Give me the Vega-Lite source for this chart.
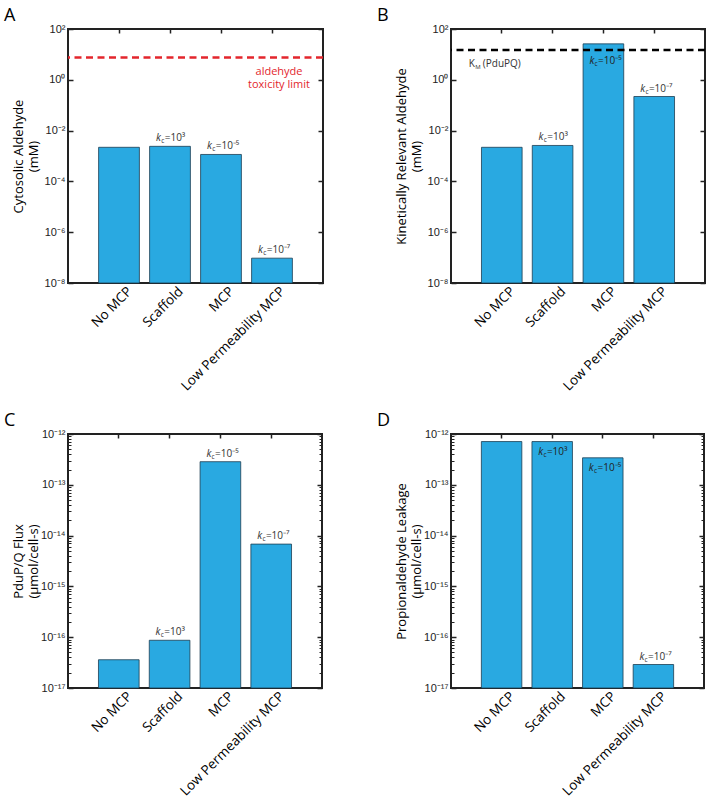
{
  "$schema": "https://vega.github.io/schema/vega-lite/v6.json",
  "padding": {"left": 3, "top": 6, "right": 0, "bottom": 0},
  "background": "white",
  "datasets": {
    "bars": [
      {"panel": "A", "cat": "No MCP", "value": 0.0022, "kc": ""},
      {"panel": "A", "cat": "Scaffold", "value": 0.0024, "kc": "=10³"},
      {"panel": "A", "cat": "MCP", "value": 0.00115, "kc": "=10⁻⁵"},
      {"panel": "A", "cat": "Low Permeability MCP", "value": 9.5e-8, "kc": "=10⁻⁷"},
      {"panel": "B", "cat": "No MCP", "value": 0.0022, "kc": ""},
      {"panel": "B", "cat": "Scaffold", "value": 0.0026, "kc": "=10³"},
      {"panel": "B", "cat": "MCP", "value": 26, "kc": "=10⁻⁵"},
      {"panel": "B", "cat": "Low Permeability MCP", "value": 0.22, "kc": "=10⁻⁷"},
      {"panel": "C", "cat": "No MCP", "value": 3.6e-17, "kc": ""},
      {"panel": "C", "cat": "Scaffold", "value": 8.7e-17, "kc": "=10³"},
      {"panel": "C", "cat": "MCP", "value": 2.85e-13, "kc": "=10⁻⁵"},
      {"panel": "C", "cat": "Low Permeability MCP", "value": 6.8e-15, "kc": "=10⁻⁷"},
      {"panel": "D", "cat": "No MCP", "value": 7.1e-13, "kc": ""},
      {"panel": "D", "cat": "Scaffold", "value": 7.1e-13, "kc": "=10³"},
      {"panel": "D", "cat": "MCP", "value": 3.4e-13, "kc": "=10⁻⁵"},
      {"panel": "D", "cat": "Low Permeability MCP", "value": 2.9e-17, "kc": "=10⁻⁷"}
    ],
    "refs": [
      {"panel": "A", "cat": "Low Permeability MCP", "value": 7.5, "label": "aldehyde\ntoxicity limit"},
      {"panel": "B", "cat": "No MCP", "value": 15, "label": "(PduPQ)"}
    ]
  },
  "columns": 2,
  "spacing": {"row": 17, "column": 50},
  "concat": [
    {
      "width": 255, "height": 254,
      "title": {"text": "A", "dx": -8},
      "layer": [
        {
          "data": {"name": "bars"},
          "transform": [{"filter": "datum.panel=='A'"}],
          "mark": {"type": "bar", "fill": "#29A9E1", "stroke": "#1d3d52", "strokeWidth": 0.8},
          "encoding": {
            "x": {"field": "cat", "type": "nominal", "scale": {"domain": ["No MCP", "Scaffold", "MCP", "Low Permeability MCP"], "paddingInner": 0.2, "paddingOuter": 0.6},
              "axis": {"orient": "bottom", "title": null, "labelAngle": -45, "labelAlign": "right", "labelBaseline": "middle", "labelFont": "Open Sans", "labelFontSize": 13.5, "labelColor": "#000", "labelPadding": 10, "labelOffset": 11, "tickSize": -4, "tickColor": "#222", "tickWidth": 1.5, "domain": false}},
            "y": {"field": "value", "type": "quantitative", "stack": null, "scale": {"type": "log", "domain": [1e-8, 100]},
              "axis": {"orient": "left", "values": [1e-8, 1e-6, 1e-4, 1e-2, 1, 100], "labelExpr": "'10' + replace(replace(replace(replace(replace(replace(replace(replace(replace(replace(replace(toString(round(log(datum.value)/LN10)),'-','⁻'),'0','⁰'),'1','¹'),'2','²'),'3','³'),'4','⁴'),'5','⁵'),'6','⁶'),'7','⁷'),'8','⁸'),'9','⁹')", "labelFont": "Liberation Sans", "labelFontSize": 11, "labelColor": "#222", "labelPadding": 8, "tickSize": -5, "tickColor": "#222", "tickWidth": 1.5, "domain": false, "grid": false, "minExtent": 26, "maxExtent": 26, "title": ["Cytosolic Aldehyde", "(mM)"], "titleFont": "Open Sans", "titleFontSize": 13, "titleFontWeight": "normal", "titleColor": "#000", "titlePadding": 2, "titleLineHeight": 15}}
          }
        },
        {
          "data": {"name": "bars"},
          "transform": [{"filter": "datum.panel=='A'"}],
          "mark": {"type": "point", "opacity": 0},
          "encoding": {
            "x": {"field": "cat", "type": "nominal", "axis": {"orient": "top", "title": null, "labels": false, "tickSize": -4, "tickColor": "#222", "tickWidth": 1.5, "domain": false}},
            "y": {"field": "value", "type": "quantitative", "axis": {"orient": "right", "values": [1e-8, 1e-6, 1e-4, 1e-2, 1, 100], "labels": false, "tickSize": -5, "tickColor": "#222", "tickWidth": 1.5, "domain": false, "grid": false, "title": null}}
          }
        },
        {
          "data": {"name": "refs"},
          "transform": [{"filter": "datum.panel=='A'"}],
          "mark": {"type": "rule", "color": "#E3262D", "strokeWidth": 2.5, "strokeDash": [7, 4.5]},
          "encoding": {"y": {"field": "value", "type": "quantitative", "axis": null}}
        },
        {
          "data": {"name": "refs"},
          "transform": [{"filter": "datum.panel=='A'"}],
          "mark": {"type": "text", "color": "#E3262D", "font": "Open Sans", "fontSize": 11, "lineBreak": "\n", "lineHeight": 13, "align": "center", "baseline": "top", "dx": 7, "dy": 8},
          "encoding": {"x": {"field": "cat", "type": "nominal", "axis": null}, "y": {"field": "value", "type": "quantitative", "axis": null}, "text": {"field": "label"}}
        },
        {
          "data": {"name": "bars"},
          "transform": [{"filter": "datum.panel=='A' && datum.kc!=''"}],
          "mark": {"type": "text", "text": "k", "font": "Open Sans", "fontStyle": "italic", "fontSize": 10, "align": "left", "baseline": "alphabetic", "dx": -14, "dy": -5, "color": "#333"},
          "encoding": {"x": {"field": "cat", "type": "nominal", "axis": null}, "y": {"field": "value", "type": "quantitative", "axis": null}}
        },
        {
          "data": {"name": "bars"},
          "transform": [{"filter": "datum.panel=='A' && datum.kc!=''"}],
          "mark": {"type": "text", "text": "c", "font": "Open Sans", "fontSize": 6.5, "align": "left", "baseline": "alphabetic", "dx": -8.8, "dy": -3, "color": "#333"},
          "encoding": {"x": {"field": "cat", "type": "nominal", "axis": null}, "y": {"field": "value", "type": "quantitative", "axis": null}}
        },
        {
          "data": {"name": "bars"},
          "transform": [{"filter": "datum.panel=='A' && datum.kc!=''"}],
          "mark": {"type": "text", "font": "Open Sans", "fontSize": 10, "align": "left", "baseline": "alphabetic", "dx": -5.3, "dy": -5, "color": "#333"},
          "encoding": {"x": {"field": "cat", "type": "nominal", "axis": null}, "y": {"field": "value", "type": "quantitative", "axis": null}, "text": {"field": "kc"}}
        }
      ],
      "resolve": {"axis": {"x": "independent", "y": "independent"}}
    },
    {
      "width": 254, "height": 254,
      "title": {"text": "B", "dx": -18},
      "layer": [
        {
          "data": {"name": "bars"},
          "transform": [{"filter": "datum.panel=='B'"}],
          "mark": {"type": "bar", "fill": "#29A9E1", "stroke": "#1d3d52", "strokeWidth": 0.8},
          "encoding": {
            "x": {"field": "cat", "type": "nominal", "scale": {"domain": ["No MCP", "Scaffold", "MCP", "Low Permeability MCP"], "paddingInner": 0.2, "paddingOuter": 0.6},
              "axis": {"orient": "bottom", "title": null, "labelAngle": -45, "labelAlign": "right", "labelBaseline": "middle", "labelFont": "Open Sans", "labelFontSize": 13.5, "labelColor": "#000", "labelPadding": 10, "labelOffset": 11, "tickSize": -4, "tickColor": "#222", "tickWidth": 1.5, "domain": false}},
            "y": {"field": "value", "type": "quantitative", "stack": null, "scale": {"type": "log", "domain": [1e-8, 100]},
              "axis": {"orient": "left", "values": [1e-8, 1e-6, 1e-4, 1e-2, 1, 100], "labelExpr": "'10' + replace(replace(replace(replace(replace(replace(replace(replace(replace(replace(replace(toString(round(log(datum.value)/LN10)),'-','⁻'),'0','⁰'),'1','¹'),'2','²'),'3','³'),'4','⁴'),'5','⁵'),'6','⁶'),'7','⁷'),'8','⁸'),'9','⁹')", "labelFont": "Liberation Sans", "labelFontSize": 11, "labelColor": "#222", "labelPadding": 8, "tickSize": -5, "tickColor": "#222", "tickWidth": 1.5, "domain": false, "grid": false, "minExtent": 26, "maxExtent": 26, "title": ["Kinetically Relevant Aldehyde", "(mM)"], "titleFont": "Open Sans", "titleFontSize": 13, "titleFontWeight": "normal", "titleColor": "#000", "titlePadding": 2, "titleLineHeight": 15}}
          }
        },
        {
          "data": {"name": "bars"},
          "transform": [{"filter": "datum.panel=='B'"}],
          "mark": {"type": "point", "opacity": 0},
          "encoding": {
            "x": {"field": "cat", "type": "nominal", "axis": {"orient": "top", "title": null, "labels": false, "tickSize": -4, "tickColor": "#222", "tickWidth": 1.5, "domain": false}},
            "y": {"field": "value", "type": "quantitative", "axis": {"orient": "right", "values": [1e-8, 1e-6, 1e-4, 1e-2, 1, 100], "labels": false, "tickSize": -5, "tickColor": "#222", "tickWidth": 1.5, "domain": false, "grid": false, "title": null}}
          }
        },
        {
          "data": {"name": "refs"},
          "transform": [{"filter": "datum.panel=='B'"}],
          "mark": {"type": "rule", "color": "#000", "strokeWidth": 2.5, "strokeDash": [7, 4.5]},
          "encoding": {"y": {"field": "value", "type": "quantitative", "axis": null}}
        },
        {
          "data": {"name": "refs"},
          "transform": [{"filter": "datum.panel=='B'"}],
          "mark": {"type": "text", "text": "K", "color": "#333", "font": "Open Sans", "fontSize": 10, "align": "left", "baseline": "middle", "dx": -33, "dy": 14},
          "encoding": {"x": {"field": "cat", "type": "nominal", "axis": null}, "y": {"field": "value", "type": "quantitative", "axis": null}}
        },
        {
          "data": {"name": "refs"},
          "transform": [{"filter": "datum.panel=='B'"}],
          "mark": {"type": "text", "text": "M", "color": "#333", "font": "Open Sans", "fontSize": 6, "align": "left", "baseline": "middle", "dx": -26.5, "dy": 17},
          "encoding": {"x": {"field": "cat", "type": "nominal", "axis": null}, "y": {"field": "value", "type": "quantitative", "axis": null}}
        },
        {
          "data": {"name": "refs"},
          "transform": [{"filter": "datum.panel=='B'"}],
          "mark": {"type": "text", "color": "#333", "font": "Open Sans", "fontSize": 10, "align": "left", "baseline": "middle", "dx": -19, "dy": 14},
          "encoding": {"x": {"field": "cat", "type": "nominal", "axis": null}, "y": {"field": "value", "type": "quantitative", "axis": null}, "text": {"field": "label"}}
        },
        {
          "data": {"name": "bars"},
          "transform": [{"filter": "datum.panel=='B' && datum.kc!='' && datum.cat!='MCP'"}],
          "mark": {"type": "text", "text": "k", "font": "Open Sans", "fontStyle": "italic", "fontSize": 10, "align": "left", "baseline": "alphabetic", "dx": -14, "dy": -5, "color": "#333"},
          "encoding": {"x": {"field": "cat", "type": "nominal", "axis": null}, "y": {"field": "value", "type": "quantitative", "axis": null}}
        },
        {
          "data": {"name": "bars"},
          "transform": [{"filter": "datum.panel=='B' && datum.kc!='' && datum.cat!='MCP'"}],
          "mark": {"type": "text", "text": "c", "font": "Open Sans", "fontSize": 6.5, "align": "left", "baseline": "alphabetic", "dx": -8.8, "dy": -3, "color": "#333"},
          "encoding": {"x": {"field": "cat", "type": "nominal", "axis": null}, "y": {"field": "value", "type": "quantitative", "axis": null}}
        },
        {
          "data": {"name": "bars"},
          "transform": [{"filter": "datum.panel=='B' && datum.kc!='' && datum.cat!='MCP'"}],
          "mark": {"type": "text", "font": "Open Sans", "fontSize": 10, "align": "left", "baseline": "alphabetic", "dx": -5.3, "dy": -5, "color": "#333"},
          "encoding": {"x": {"field": "cat", "type": "nominal", "axis": null}, "y": {"field": "value", "type": "quantitative", "axis": null}, "text": {"field": "kc"}}
        },
        {
          "data": {"name": "bars"},
          "transform": [{"filter": "datum.panel=='B' && datum.cat=='MCP'"}],
          "mark": {"type": "text", "text": "k", "font": "Open Sans", "fontStyle": "italic", "fontSize": 10, "align": "left", "baseline": "alphabetic", "dx": -14, "dy": 20, "color": "#222"},
          "encoding": {"x": {"field": "cat", "type": "nominal", "axis": null}, "y": {"field": "value", "type": "quantitative", "axis": null}}
        },
        {
          "data": {"name": "bars"},
          "transform": [{"filter": "datum.panel=='B' && datum.cat=='MCP'"}],
          "mark": {"type": "text", "text": "c", "font": "Open Sans", "fontSize": 6.5, "align": "left", "baseline": "alphabetic", "dx": -8.8, "dy": 22, "color": "#222"},
          "encoding": {"x": {"field": "cat", "type": "nominal", "axis": null}, "y": {"field": "value", "type": "quantitative", "axis": null}}
        },
        {
          "data": {"name": "bars"},
          "transform": [{"filter": "datum.panel=='B' && datum.cat=='MCP'"}],
          "mark": {"type": "text", "font": "Open Sans", "fontSize": 10, "align": "left", "baseline": "alphabetic", "dx": -5.3, "dy": 20, "color": "#222"},
          "encoding": {"x": {"field": "cat", "type": "nominal", "axis": null}, "y": {"field": "value", "type": "quantitative", "axis": null}, "text": {"field": "kc"}}
        }
      ],
      "resolve": {"axis": {"x": "independent", "y": "independent"}}
    },
    {
      "width": 254, "height": 254,
      "title": {"text": "C", "dx": -8},
      "layer": [
        {
          "data": {"name": "bars"},
          "transform": [{"filter": "datum.panel=='C'"}],
          "mark": {"type": "bar", "fill": "#29A9E1", "stroke": "#1d3d52", "strokeWidth": 0.8},
          "encoding": {
            "x": {"field": "cat", "type": "nominal", "scale": {"domain": ["No MCP", "Scaffold", "MCP", "Low Permeability MCP"], "paddingInner": 0.2, "paddingOuter": 0.6},
              "axis": {"orient": "bottom", "title": null, "labelAngle": -45, "labelAlign": "right", "labelBaseline": "middle", "labelFont": "Open Sans", "labelFontSize": 13.5, "labelColor": "#000", "labelPadding": 10, "labelOffset": 11, "tickSize": -4, "tickColor": "#222", "tickWidth": 1.5, "domain": false}},
            "y": {"field": "value", "type": "quantitative", "stack": null, "scale": {"type": "log", "domain": [1e-17, 1e-12]},
              "axis": {"orient": "left", "values": [1e-17, 1e-16, 1e-15, 1e-14, 1e-13, 1e-12], "labelExpr": "'10' + replace(replace(replace(replace(replace(replace(replace(replace(replace(replace(replace(toString(round(log(datum.value)/LN10)),'-','⁻'),'0','⁰'),'1','¹'),'2','²'),'3','³'),'4','⁴'),'5','⁵'),'6','⁶'),'7','⁷'),'8','⁸'),'9','⁹')", "labelFont": "Liberation Sans", "labelFontSize": 11, "labelColor": "#222", "labelPadding": 8, "tickSize": -5, "tickColor": "#222", "tickWidth": 1.5, "domain": false, "grid": false, "minExtent": 26, "maxExtent": 26, "title": ["PduP/Q Flux", "(µmol/cell-s)"], "titleFont": "Open Sans", "titleFontSize": 13, "titleFontWeight": "normal", "titleColor": "#000", "titlePadding": 2, "titleLineHeight": 15}}
          }
        },
        {
          "data": {"name": "bars"},
          "transform": [{"filter": "datum.panel=='C'"}],
          "mark": {"type": "point", "opacity": 0},
          "encoding": {
            "x": {"field": "cat", "type": "nominal", "axis": {"orient": "top", "title": null, "labels": false, "tickSize": -4, "tickColor": "#222", "tickWidth": 1.5, "domain": false}},
            "y": {"field": "value", "type": "quantitative", "axis": {"orient": "right", "values": [1e-17, 1e-16, 1e-15, 1e-14, 1e-13, 1e-12], "labels": false, "tickSize": -5, "tickColor": "#222", "tickWidth": 1.5, "domain": false, "grid": false, "title": null}}
          }
        },
        {
          "data": {"name": "bars"},
          "transform": [{"filter": "datum.panel=='C'"}],
          "mark": {"type": "point", "opacity": 0},
          "encoding": {
            "x": {"field": "cat", "type": "nominal", "axis": null},
            "y": {"field": "value", "type": "quantitative", "axis": {"orient": "left", "values": [2e-17, 3e-17, 4e-17, 5e-17, 6e-17, 7e-17, 8e-17, 9e-17, 2e-16, 3e-16, 4e-16, 5e-16, 6e-16, 7e-16, 8e-16, 9e-16, 2e-15, 3e-15, 4e-15, 5e-15, 6e-15, 7e-15, 8e-15, 9e-15, 2e-14, 3e-14, 4e-14, 5e-14, 6e-14, 7e-14, 8e-14, 9e-14, 2e-13, 3e-13, 4e-13, 5e-13, 6e-13, 7e-13, 8e-13, 9e-13], "labels": false, "tickSize": -3, "tickColor": "#222", "tickWidth": 1, "domain": false, "grid": false, "title": null}}
          }
        },
        {
          "data": {"name": "bars"},
          "transform": [{"filter": "datum.panel=='C'"}],
          "mark": {"type": "point", "opacity": 0},
          "encoding": {
            "x": {"field": "cat", "type": "nominal", "axis": null},
            "y": {"field": "value", "type": "quantitative", "axis": {"orient": "right", "values": [2e-17, 3e-17, 4e-17, 5e-17, 6e-17, 7e-17, 8e-17, 9e-17, 2e-16, 3e-16, 4e-16, 5e-16, 6e-16, 7e-16, 8e-16, 9e-16, 2e-15, 3e-15, 4e-15, 5e-15, 6e-15, 7e-15, 8e-15, 9e-15, 2e-14, 3e-14, 4e-14, 5e-14, 6e-14, 7e-14, 8e-14, 9e-14, 2e-13, 3e-13, 4e-13, 5e-13, 6e-13, 7e-13, 8e-13, 9e-13], "labels": false, "tickSize": -3, "tickColor": "#222", "tickWidth": 1, "domain": false, "grid": false, "title": null}}
          }
        },
        {
          "data": {"name": "bars"},
          "transform": [{"filter": "datum.panel=='C' && datum.kc!=''"}],
          "mark": {"type": "text", "text": "k", "font": "Open Sans", "fontStyle": "italic", "fontSize": 10, "align": "left", "baseline": "alphabetic", "dx": -14, "dy": -5, "color": "#333"},
          "encoding": {"x": {"field": "cat", "type": "nominal", "axis": null}, "y": {"field": "value", "type": "quantitative", "axis": null}}
        },
        {
          "data": {"name": "bars"},
          "transform": [{"filter": "datum.panel=='C' && datum.kc!=''"}],
          "mark": {"type": "text", "text": "c", "font": "Open Sans", "fontSize": 6.5, "align": "left", "baseline": "alphabetic", "dx": -8.8, "dy": -3, "color": "#333"},
          "encoding": {"x": {"field": "cat", "type": "nominal", "axis": null}, "y": {"field": "value", "type": "quantitative", "axis": null}}
        },
        {
          "data": {"name": "bars"},
          "transform": [{"filter": "datum.panel=='C' && datum.kc!=''"}],
          "mark": {"type": "text", "font": "Open Sans", "fontSize": 10, "align": "left", "baseline": "alphabetic", "dx": -5.3, "dy": -5, "color": "#333"},
          "encoding": {"x": {"field": "cat", "type": "nominal", "axis": null}, "y": {"field": "value", "type": "quantitative", "axis": null}, "text": {"field": "kc"}}
        }
      ],
      "resolve": {"axis": {"x": "independent", "y": "independent"}}
    },
    {
      "width": 253, "height": 254,
      "title": {"text": "D", "dx": -18},
      "layer": [
        {
          "data": {"name": "bars"},
          "transform": [{"filter": "datum.panel=='D'"}],
          "mark": {"type": "bar", "fill": "#29A9E1", "stroke": "#1d3d52", "strokeWidth": 0.8},
          "encoding": {
            "x": {"field": "cat", "type": "nominal", "scale": {"domain": ["No MCP", "Scaffold", "MCP", "Low Permeability MCP"], "paddingInner": 0.2, "paddingOuter": 0.6},
              "axis": {"orient": "bottom", "title": null, "labelAngle": -45, "labelAlign": "right", "labelBaseline": "middle", "labelFont": "Open Sans", "labelFontSize": 13.5, "labelColor": "#000", "labelPadding": 10, "labelOffset": 11, "tickSize": -4, "tickColor": "#222", "tickWidth": 1.5, "domain": false}},
            "y": {"field": "value", "type": "quantitative", "stack": null, "scale": {"type": "log", "domain": [1e-17, 1e-12]},
              "axis": {"orient": "left", "values": [1e-17, 1e-16, 1e-15, 1e-14, 1e-13, 1e-12], "labelExpr": "'10' + replace(replace(replace(replace(replace(replace(replace(replace(replace(replace(replace(toString(round(log(datum.value)/LN10)),'-','⁻'),'0','⁰'),'1','¹'),'2','²'),'3','³'),'4','⁴'),'5','⁵'),'6','⁶'),'7','⁷'),'8','⁸'),'9','⁹')", "labelFont": "Liberation Sans", "labelFontSize": 11, "labelColor": "#222", "labelPadding": 8, "tickSize": -5, "tickColor": "#222", "tickWidth": 1.5, "domain": false, "grid": false, "minExtent": 26, "maxExtent": 26, "title": ["Propionaldehyde Leakage", "(µmol/cell-s)"], "titleFont": "Open Sans", "titleFontSize": 13, "titleFontWeight": "normal", "titleColor": "#000", "titlePadding": 2, "titleLineHeight": 15}}
          }
        },
        {
          "data": {"name": "bars"},
          "transform": [{"filter": "datum.panel=='D'"}],
          "mark": {"type": "point", "opacity": 0},
          "encoding": {
            "x": {"field": "cat", "type": "nominal", "axis": {"orient": "top", "title": null, "labels": false, "tickSize": -4, "tickColor": "#222", "tickWidth": 1.5, "domain": false}},
            "y": {"field": "value", "type": "quantitative", "axis": {"orient": "right", "values": [1e-17, 1e-16, 1e-15, 1e-14, 1e-13, 1e-12], "labels": false, "tickSize": -5, "tickColor": "#222", "tickWidth": 1.5, "domain": false, "grid": false, "title": null}}
          }
        },
        {
          "data": {"name": "bars"},
          "transform": [{"filter": "datum.panel=='D'"}],
          "mark": {"type": "point", "opacity": 0},
          "encoding": {
            "x": {"field": "cat", "type": "nominal", "axis": null},
            "y": {"field": "value", "type": "quantitative", "axis": {"orient": "left", "values": [2e-17, 3e-17, 4e-17, 5e-17, 6e-17, 7e-17, 8e-17, 9e-17, 2e-16, 3e-16, 4e-16, 5e-16, 6e-16, 7e-16, 8e-16, 9e-16, 2e-15, 3e-15, 4e-15, 5e-15, 6e-15, 7e-15, 8e-15, 9e-15, 2e-14, 3e-14, 4e-14, 5e-14, 6e-14, 7e-14, 8e-14, 9e-14, 2e-13, 3e-13, 4e-13, 5e-13, 6e-13, 7e-13, 8e-13, 9e-13], "labels": false, "tickSize": -3, "tickColor": "#222", "tickWidth": 1, "domain": false, "grid": false, "title": null}}
          }
        },
        {
          "data": {"name": "bars"},
          "transform": [{"filter": "datum.panel=='D'"}],
          "mark": {"type": "point", "opacity": 0},
          "encoding": {
            "x": {"field": "cat", "type": "nominal", "axis": null},
            "y": {"field": "value", "type": "quantitative", "axis": {"orient": "right", "values": [2e-17, 3e-17, 4e-17, 5e-17, 6e-17, 7e-17, 8e-17, 9e-17, 2e-16, 3e-16, 4e-16, 5e-16, 6e-16, 7e-16, 8e-16, 9e-16, 2e-15, 3e-15, 4e-15, 5e-15, 6e-15, 7e-15, 8e-15, 9e-15, 2e-14, 3e-14, 4e-14, 5e-14, 6e-14, 7e-14, 8e-14, 9e-14, 2e-13, 3e-13, 4e-13, 5e-13, 6e-13, 7e-13, 8e-13, 9e-13], "labels": false, "tickSize": -3, "tickColor": "#222", "tickWidth": 1, "domain": false, "grid": false, "title": null}}
          }
        },
        {
          "data": {"name": "bars"},
          "transform": [{"filter": "datum.panel=='D' && datum.cat=='Low Permeability MCP'"}],
          "mark": {"type": "text", "text": "k", "font": "Open Sans", "fontStyle": "italic", "fontSize": 10, "align": "left", "baseline": "alphabetic", "dx": -14, "dy": -5, "color": "#333"},
          "encoding": {"x": {"field": "cat", "type": "nominal", "axis": null}, "y": {"field": "value", "type": "quantitative", "axis": null}}
        },
        {
          "data": {"name": "bars"},
          "transform": [{"filter": "datum.panel=='D' && datum.cat=='Low Permeability MCP'"}],
          "mark": {"type": "text", "text": "c", "font": "Open Sans", "fontSize": 6.5, "align": "left", "baseline": "alphabetic", "dx": -8.8, "dy": -3, "color": "#333"},
          "encoding": {"x": {"field": "cat", "type": "nominal", "axis": null}, "y": {"field": "value", "type": "quantitative", "axis": null}}
        },
        {
          "data": {"name": "bars"},
          "transform": [{"filter": "datum.panel=='D' && datum.cat=='Low Permeability MCP'"}],
          "mark": {"type": "text", "font": "Open Sans", "fontSize": 10, "align": "left", "baseline": "alphabetic", "dx": -5.3, "dy": -5, "color": "#333"},
          "encoding": {"x": {"field": "cat", "type": "nominal", "axis": null}, "y": {"field": "value", "type": "quantitative", "axis": null}, "text": {"field": "kc"}}
        },
        {
          "data": {"name": "bars"},
          "transform": [{"filter": "datum.panel=='D' && (datum.cat=='Scaffold' || datum.cat=='MCP')"}],
          "mark": {"type": "text", "text": "k", "font": "Open Sans", "fontStyle": "italic", "fontSize": 10, "align": "left", "baseline": "alphabetic", "dx": -14, "dy": 13, "color": "#222"},
          "encoding": {"x": {"field": "cat", "type": "nominal", "axis": null}, "y": {"field": "value", "type": "quantitative", "axis": null}}
        },
        {
          "data": {"name": "bars"},
          "transform": [{"filter": "datum.panel=='D' && (datum.cat=='Scaffold' || datum.cat=='MCP')"}],
          "mark": {"type": "text", "text": "c", "font": "Open Sans", "fontSize": 6.5, "align": "left", "baseline": "alphabetic", "dx": -8.8, "dy": 15, "color": "#222"},
          "encoding": {"x": {"field": "cat", "type": "nominal", "axis": null}, "y": {"field": "value", "type": "quantitative", "axis": null}}
        },
        {
          "data": {"name": "bars"},
          "transform": [{"filter": "datum.panel=='D' && (datum.cat=='Scaffold' || datum.cat=='MCP')"}],
          "mark": {"type": "text", "font": "Open Sans", "fontSize": 10, "align": "left", "baseline": "alphabetic", "dx": -5.3, "dy": 13, "color": "#222"},
          "encoding": {"x": {"field": "cat", "type": "nominal", "axis": null}, "y": {"field": "value", "type": "quantitative", "axis": null}, "text": {"field": "kc"}}
        }
      ],
      "resolve": {"axis": {"x": "independent", "y": "independent"}}
    }
  ],
  "config": {
    "view": {"stroke": "#222", "strokeWidth": 2},
    "axis": {"grid": false},
    "title": {"anchor": "start", "frame": "bounds", "font": "Open Sans", "fontSize": 18, "fontWeight": "normal", "color": "#000", "offset": -2, "baseline": "alphabetic"}
  }
}
